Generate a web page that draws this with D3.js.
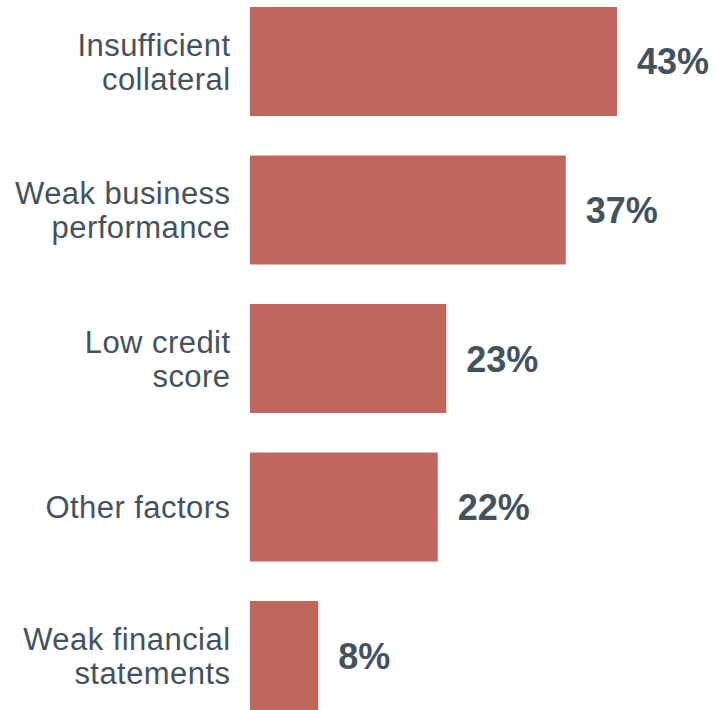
<!DOCTYPE html>
<html>
<head>
<meta charset="utf-8">
<script src="https://cdn.jsdelivr.net/npm/d3@7"></script>
<style>
  html, body { margin: 0; padding: 0; background: #ffffff; }
  svg { display: block; }
</style>
</head>
<body>
<div id="chart"></div>
<script>
// Reasons for loan rejection, share of respondents
const categories = [
  ["Insufficient", "collateral"],
  ["Weak business", "performance"],
  ["Low credit", "score"],
  ["Other factors"],
  ["Weak financial", "statements"]
];
const values = [43, 37, 23, 22, 8];
const valueLabels = ["43%", "37%", "23%", "22%", "8%"];

const width = 717, height = 710;
const barColor = "#bf675d";
const textColor = "#44525d";
const font = "'Liberation Sans', Arial, Helvetica, sans-serif";

const svg = d3.select("#chart").append("svg")
  .attr("width", width)
  .attr("height", height);

const keys = categories.map((c, i) => i);

const y = d3.scaleBand()
  .domain(keys)
  .range([7, 710])
  .paddingInner(0.266)
  .paddingOuter(0);

const x = d3.scaleLinear()
  .domain([0, 43])
  .range([250, 617]);

// Bars
svg.selectAll("rect.bar")
  .data(keys)
  .join("rect")
  .attr("class", "bar")
  .attr("x", x(0))
  .attr("y", i => y(i))
  .attr("width", i => x(values[i]) - x(0))
  .attr("height", y.bandwidth())
  .attr("fill", barColor);

// Value labels
svg.selectAll("text.value")
  .data(keys)
  .join("text")
  .attr("class", "value")
  .attr("x", i => x(values[i]) + 20)
  .attr("y", i => y(i) + y.bandwidth() / 2 + 13)
  .attr("font-family", font)
  .attr("font-size", 36)
  .attr("font-weight", "bold")
  .attr("fill", textColor)
  .text(i => valueLabels[i]);

// Category labels (wrapped over one or two lines)
const lineH = 34;
const catFont = 31;
svg.selectAll("text.cat")
  .data(keys)
  .join("text")
  .attr("class", "cat")
  .attr("text-anchor", "end")
  .attr("font-family", font)
  .attr("font-size", catFont)
  .attr("letter-spacing", "0.45px")
  .attr("fill", textColor)
  .each(function(i) {
    const lines = categories[i];
    const cy = y(i) + y.bandwidth() / 2;
    const firstBase = cy - (lines.length - 1) * lineH / 2 + catFont * 0.716 / 2;
    d3.select(this).selectAll("tspan")
      .data(lines)
      .join("tspan")
      .attr("x", 230.5)
      .attr("y", (d, j) => firstBase + j * lineH)
      .text(d => d);
  });
</script>
</body>
</html>
